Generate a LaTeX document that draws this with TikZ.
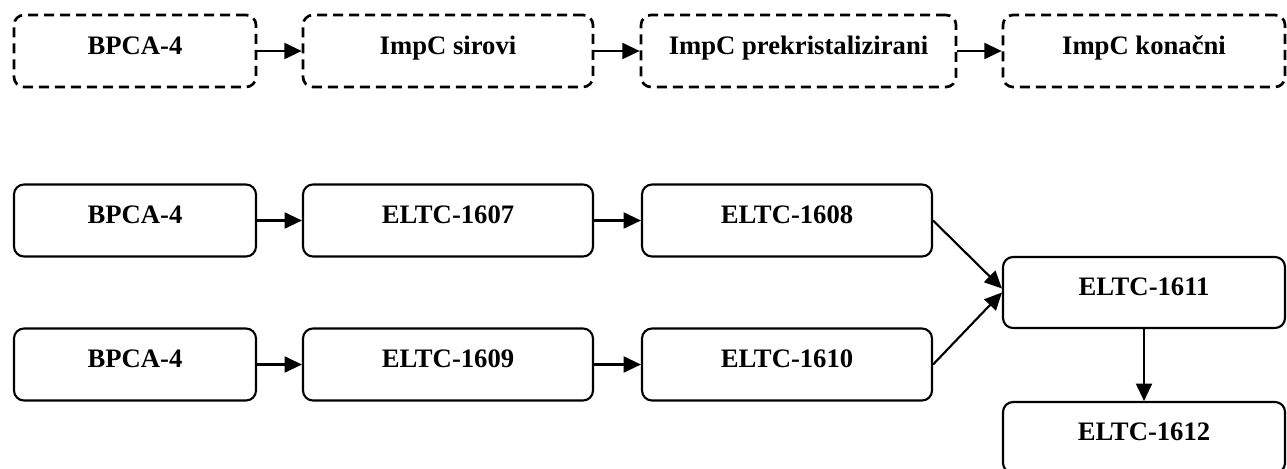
\documentclass[tikz,border=0pt]{standalone}
\usepackage{fontspec}
\setmainfont{Liberation Serif}
\usetikzlibrary{arrows.meta}

\begin{document}
\begin{tikzpicture}[x=0.75pt, y=-0.75pt,
        box/.style={draw, line width=1.6pt, rounded corners=7.5pt, inner sep=0pt,
            minimum height=54pt, text height=0.75em, text depth=0.25em,
            font=\fontsize{20}{24}\selectfont\bfseries},
        dbox/.style={box, line width=2pt, dash pattern=on 7.5pt off 4.5pt},
        arr/.style={-{Triangle[length=13pt,width=12pt]}, line width=1.6pt}]
        \useasboundingbox (0,0) rectangle (1287,468);
        \node[dbox, minimum width=181.5pt] (t1) at (135, 51) {BPCA-4};
        \node[dbox, minimum width=217.5pt] (t2) at (448, 51) {ImpC sirovi};
        \node[dbox, minimum width=236.25pt] (t3) at (798.5, 51) {ImpC prekristalizirani};
        \node[dbox, minimum width=211.5pt] (t4) at (1144, 51) {ImpC konačni};
        \foreach \a/\b in {t1/t2, t2/t3, t3/t4} {
            \draw[arr] (\a) -- (\b);
        }
        \node[box, minimum width=181.5pt] (a1) at (135, 220.5) {BPCA-4};
        \node[box, minimum width=217.5pt] (a2) at (448, 220.5) {ELTC-1607};
        \node[box, minimum width=217.5pt] (a3) at (787, 220.5) {ELTC-1608};
        \node[box, minimum width=181.5pt] (b1) at (135, 364.5) {BPCA-4};
        \node[box, minimum width=217.5pt] (b2) at (448, 364.5) {ELTC-1609};
        \node[box, minimum width=217.5pt] (b3) at (787, 364.5) {ELTC-1610};
        \node[box, minimum width=211.5pt, minimum height=53.25pt] (c1) at (1144, 292.5) {ELTC-1611};
        \node[box, minimum width=211.5pt, minimum height=53.25pt] (c2) at (1144, 437.5) {ELTC-1612};
        \foreach \a/\b in {a1/a2, a2/a3, b1/b2, b2/b3} {
            \draw[arr] (\a) -- (\b);
        }
        \draw[arr] (a3.east) -- ([yshift=3pt]c1.west);
        \draw[arr] (b3.east) -- (c1.west);
        \draw[arr] (c1) -- (c2);
\end{tikzpicture}
\end{document}
